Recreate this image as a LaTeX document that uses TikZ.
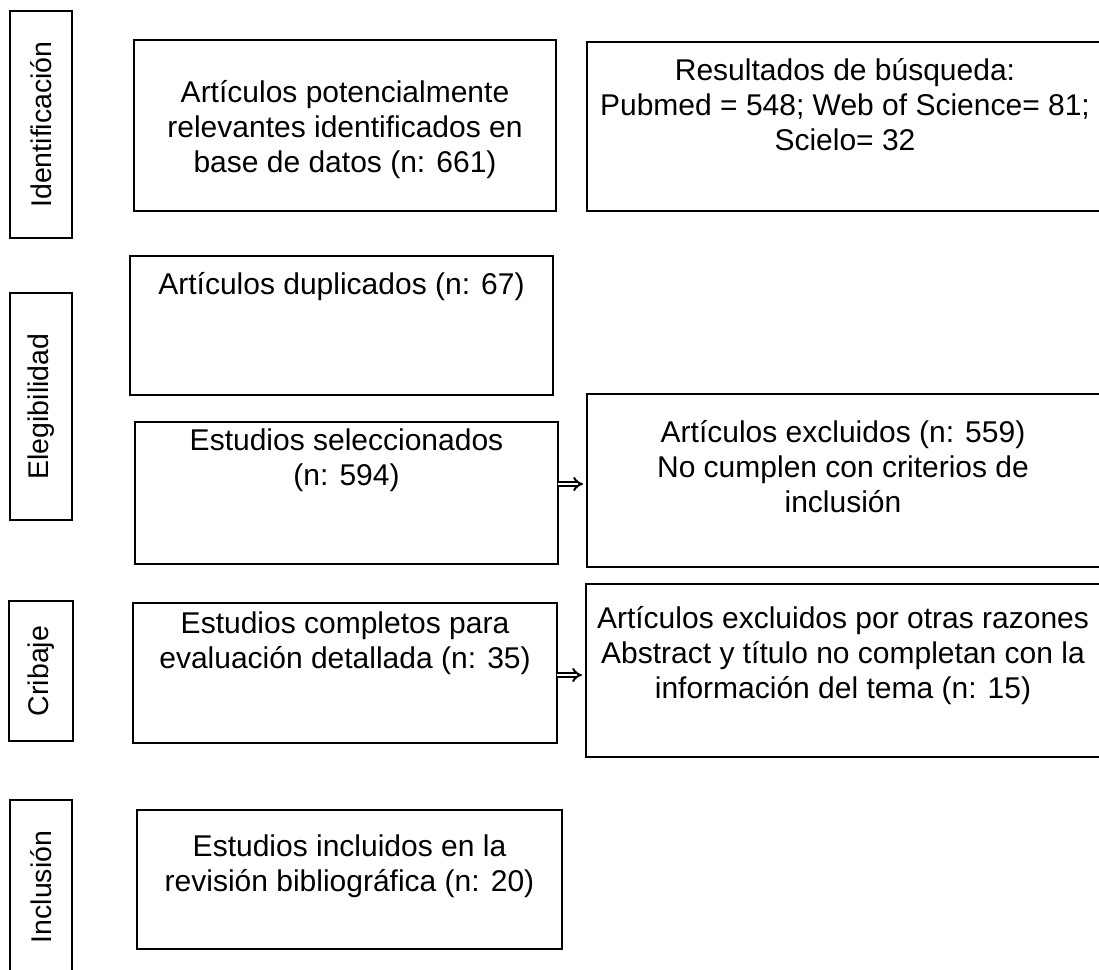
\documentclass[tikz,border=0pt]{standalone}
\usepackage{fontspec}
\setmainfont{Liberation Sans}
\usetikzlibrary{arrows.meta}
\begin{document}
\begin{tikzpicture}[x=1pt,y=-1pt,
  box/.style={draw=black, line width=1.8pt, inner sep=0pt, outer sep=0pt},
  txt/.style={align=center, inner sep=0pt, anchor=base, font=\fontsize{30}{35}\selectfont},
  lbl/.style={rotate=90, inner sep=0pt, font=\fontsize{28.5}{35}\selectfont},
  dblarrow/.style={double, double distance=2.6pt, line width=2pt, -{Implies}, shorten >=4pt}
]
\useasboundingbox (0,0) rectangle (1099,969);
\clip (0,0) rectangle (1099,969);

% phase labels
\node[box, minimum width=62pt, minimum height=227pt] (l1) at (41,124.5) {};
\node[lbl] at (l1.center) {Identificación};
\node[box, minimum width=62pt, minimum height=227pt] (l2) at (41,406.5) {};
\node[lbl] at (l2.center) {Elegibilidad};
\node[box, minimum width=64pt, minimum height=140pt] (l3) at (41,671) {};
\node[lbl] at (l3.center) {Cribaje};
\node[box, minimum width=62pt, minimum height=200pt] (l4) at (41,900) {};
\node[lbl] at (41,887) {Inclusión};

% boxes
\node[box, minimum width=422pt, minimum height=171pt] (b1) at (345,125.5) {};
\node[box, minimum width=516pt, minimum height=169pt] (b2) at (845,126.5) {};
\node[box, minimum width=423pt, minimum height=139pt] (b3) at (341.5,325.5) {};
\node[box, minimum width=423pt, minimum height=142pt] (b4) at (346.5,493) {};
\node[box, minimum width=516pt, minimum height=173pt] (b5) at (845,480.5) {};
\node[box, minimum width=424pt, minimum height=140pt] (b6) at (345,673) {};
\node[box, minimum width=516pt, minimum height=173pt] (b7) at (844,670.5) {};
\node[box, minimum width=425pt, minimum height=139pt] (b8) at (349.5,879.5) {};

% texts (anchor = baseline of last line)
\node[txt] (t1) at (345,172) {Artículos potencialmente\\relevantes identificados en\\base de datos (n: 661)};
\node[txt] (t2) at (845,150) {Resultados de búsqueda:\\Pubmed = 548; Web of Science= 81;\\Scielo= 32};
\node[txt] (t3) at (341.5,294) {Artículos duplicados (n: 67)};
\node[txt] (t4) at (346.5,485) {Estudios seleccionados\\(n: 594)};
\node[txt] (t5) at (843,512) {Artículos excluidos (n: 559)\\No cumplen con criterios de\\inclusión};
\node[txt] (t6) at (345,668) {Estudios completos para\\evaluación detallada (n: 35)};
\node[txt] (t7) at (843,698) {Artículos excluidos por otras razones\\Abstract y título no completan con la\\información del tema (n: 15)};
\node[txt] (t8) at (349.5,891) {Estudios incluidos en la\\revisión bibliográfica (n: 20)};

% arrows
\coordinate (a1) at (0,484);
\coordinate (a2) at (0,675);
\draw[dblarrow] (b4.east |- a1) -- (b5.west |- a1);
\draw[dblarrow] (b6.east |- a2) -- (b7.west |- a2);
\end{tikzpicture}
\end{document}
